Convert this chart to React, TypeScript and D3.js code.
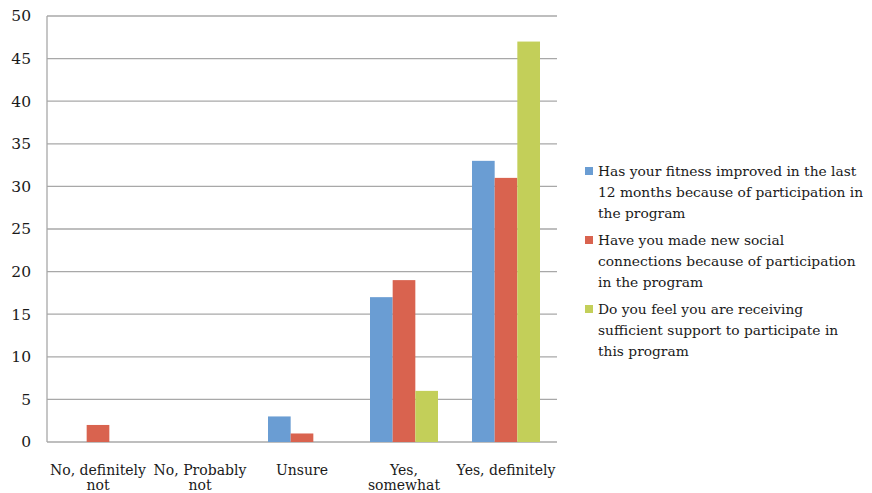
import React from "react";
import * as d3 from "d3";

const categories = [
  ["No, definitely", "not"],
  ["No, Probably", "not"],
  ["Unsure"],
  ["Yes,", "somewhat"],
  ["Yes, definitely"],
];
const seriesNames = [
  ["Has your fitness improved in the last", "12 months because of participation in", "the program"],
  ["Have you made new social", "connections because of participation", "in the program"],
  ["Do you feel you are receiving", "sufficient support to participate in", "this program"],
];
const fitness = [0, 0, 3, 17, 33];
const social = [2, 0, 1, 19, 31];
const support = [0, 0, 0, 6, 47];
const yTicks = [0, 5, 10, 15, 20, 25, 30, 35, 40, 45, 50];
const colors = ["#6a9dd3", "#d9634f", "#c3cf59"];

const W = 872;
const H = 493;
const plot = { left: 47, right: 557, top: 16, bottom: 442 };
const font = "'DejaVu Serif', serif";
const ink = "#1a1a1a";

export default function App() {
  const series = [fitness, social, support];
  const x0 = d3
    .scaleBand<number>()
    .domain(d3.range(categories.length))
    .range([plot.left, plot.right]);
  const groupW = x0.bandwidth() / 1.5;
  const x1 = d3
    .scaleBand<number>()
    .domain(d3.range(series.length))
    .range([0, groupW]);
  const y = d3.scaleLinear().domain([0, 50]).range([plot.bottom, plot.top]);

  return (
    <svg
      width={W}
      height={H}
      style={{ position: "absolute", left: 0, top: 0, background: "#fff" }}
    >
      {/* gridlines */}
      {yTicks.map((t) => (
        <line
          key={t}
          x1={plot.left}
          x2={plot.right}
          y1={y(t)}
          y2={y(t)}
          stroke="#a8a8a8"
          strokeWidth={1.3}
        />
      ))}
      <line
        x1={plot.left}
        x2={plot.left}
        y1={plot.top}
        y2={plot.bottom}
        stroke="#a8a8a8"
        strokeWidth={1.3}
      />
      {/* y tick labels */}
      {yTicks.map((t) => (
        <text
          key={t}
          x={31}
          y={y(t)}
          dy="0.35em"
          textAnchor="end"
          fontFamily={font}
          fontSize={15.5}
          fill={ink}
        >
          {t}
        </text>
      ))}
      {/* bars */}
      {categories.map((_, ci) => {
        const gx = (x0(ci) as number) + (x0.bandwidth() - groupW) / 2;
        return series.map((s, si) =>
          s[ci] > 0 ? (
            <rect
              key={`${ci}-${si}`}
              x={gx + (x1(si) as number)}
              y={y(s[ci])}
              width={x1.bandwidth()}
              height={y(0) - y(s[ci])}
              fill={colors[si]}
            />
          ) : null
        );
      })}
      {/* category labels */}
      {categories.map((lines, ci) => {
        const cx = (x0(ci) as number) + x0.bandwidth() / 2;
        return (
          <text
            key={ci}
            x={cx}
            y={475}
            textAnchor="middle"
            fontFamily={font}
            fontSize={14}
            fill={ink}
          >
            {lines.map((l, li) => (
              <tspan key={li} x={cx} dy={li === 0 ? 0 : 14.5}>
                {l}
              </tspan>
            ))}
          </text>
        );
      })}
      {/* legend */}
      {seriesNames.map((lines, si) => {
        const top = 171 + si * 69;
        return (
          <g key={si}>
            <rect x={585} y={top - 4} width={8} height={8} fill={colors[si]} />
            {lines.map((l, li) => (
              <text
                key={li}
                x={598}
                y={top + li * 21}
                dy="0.35em"
                fontFamily={font}
                fontSize={13.8}
                fill={ink}
              >
                {l}
              </text>
            ))}
          </g>
        );
      })}
    </svg>
  );
}
